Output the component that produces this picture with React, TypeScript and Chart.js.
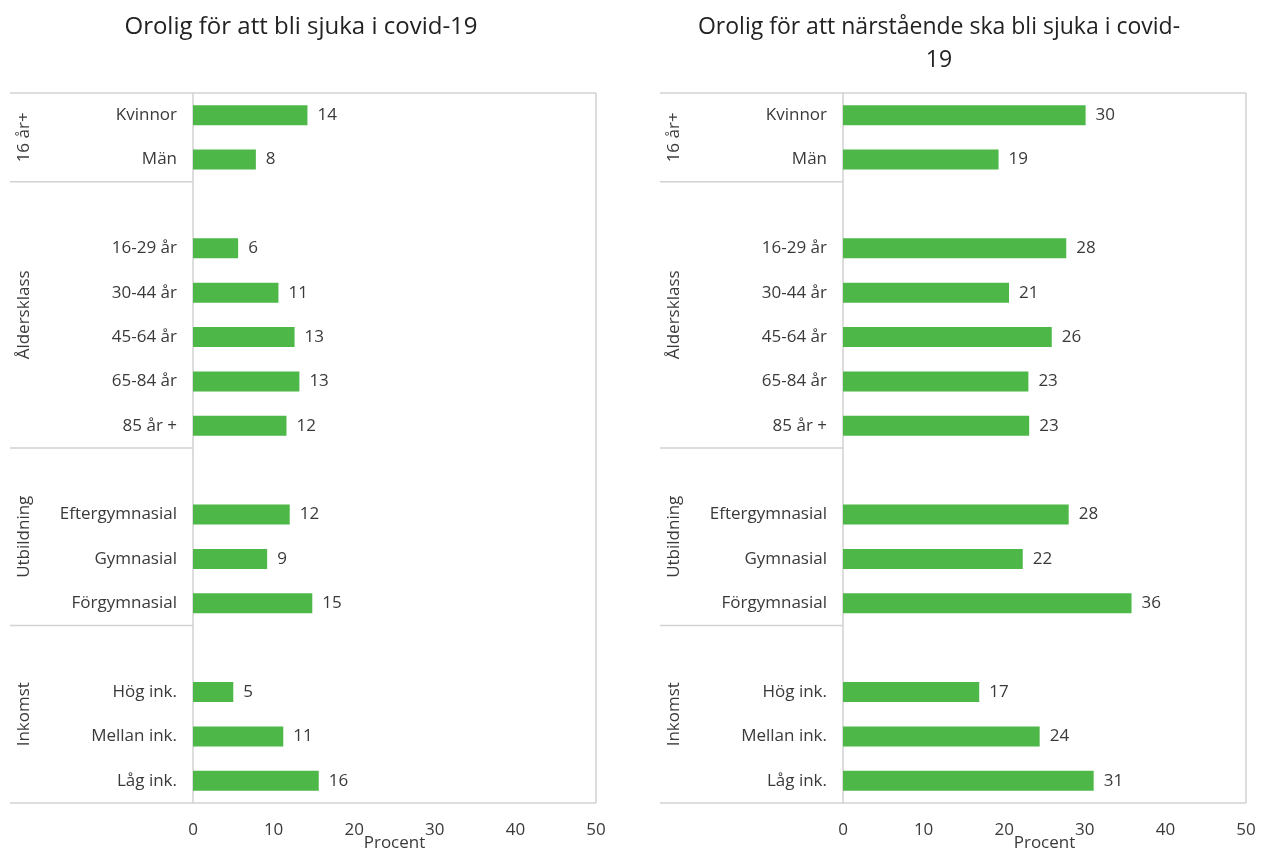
import React, { useEffect, useRef } from "react";
import { Chart, registerables } from "chart.js";

Chart.register(...registerables);

const categories = [
  "Kvinnor", "Män", "",
  "16-29 år", "30-44 år", "45-64 år", "65-84 år", "85 år +", "",
  "Eftergymnasial", "Gymnasial", "Förgymnasial", "",
  "Hög ink.", "Mellan ink.", "Låg ink.",
];

const groups = [
  { label: "16 år+", start: 0, end: 1 },
  { label: "Åldersklass", start: 2, end: 7 },
  { label: "Utbildning", start: 8, end: 11 },
  { label: "Inkomst", start: 12, end: 15 },
];

const leftValues = [14.2, 7.8, null, 5.6, 10.6, 12.6, 13.2, 11.6, null, 12.0, 9.2, 14.8, null, 5.0, 11.2, 15.6];
const rightValues = [30.1, 19.3, null, 27.7, 20.6, 25.9, 23.0, 23.1, null, 28.0, 22.3, 35.8, null, 16.9, 24.4, 31.1];

const leftTitle = ["Orolig för att bli sjuka i covid-19"];
const rightTitle = ["Orolig för att närstående ska bli sjuka i covid-", "19"];
const xTitle = "Procent";
const xTicks = [0, 10, 20, 30, 40, 50];

const FONT = "'Open Sans', 'Noto Sans', sans-serif";
const GREEN = "#4db848";
const TEXT = "#3a3a3a";
const LINE = "#d2d2d2";
const FS = 17;

const framePlugin = {
  id: "frame",
  beforeDatasetsDraw(chart: any, _args: any, opts: any) {
    const { ctx, chartArea } = chart;
    const { left, right, top, bottom } = chartArea;
    const fl = opts.frameLeft;
    const y = chart.scales.y;
    const line = (x1: number, y1: number, x2: number, y2: number) => {
      ctx.beginPath();
      ctx.moveTo(x1, y1);
      ctx.lineTo(x2, y2);
      ctx.stroke();
    };
    ctx.save();
    ctx.strokeStyle = LINE;
    ctx.lineWidth = 1.5;
    line(fl, top, right, top);
    line(right, top, right, bottom);
    line(fl, bottom, right, bottom);
    line(left, top, left, bottom);
    groups.forEach((g, i) => {
      if (i > 0) {
        const yy = (y.getPixelForValue(g.start - 1) + y.getPixelForValue(g.start)) / 2;
        line(fl, yy, left, yy);
      }
    });
    ctx.fillStyle = TEXT;
    ctx.font = `${FS}px ${FONT}`;
    ctx.textAlign = "center";
    ctx.textBaseline = "middle";
    groups.forEach((g) => {
      const y1 = y.getPixelForValue(g.start);
      const y2 = y.getPixelForValue(g.end);
      const cy = (y1 + y2) / 2;
      ctx.save();
      ctx.translate(fl + 14, cy);
      ctx.rotate(-Math.PI / 2);
      ctx.fillText(g.label, 0, 0);
      ctx.restore();
    });
    ctx.restore();
  },
  afterDatasetsDraw(chart: any) {
    const { ctx } = chart;
    const meta = chart.getDatasetMeta(0);
    const data = chart.data.datasets[0].data;
    ctx.save();
    ctx.fillStyle = TEXT;
    ctx.font = `${FS}px ${FONT}`;
    ctx.textAlign = "left";
    ctx.textBaseline = "middle";
    meta.data.forEach((el: any, i: number) => {
      const v = data[i];
      if (v === null || v === undefined) return;
      ctx.fillText(String(Math.round(v)), el.x + 10, el.y);
    });
    ctx.restore();
  },
  afterDraw(chart: any, _args: any, opts: any) {
    const { ctx, chartArea } = chart;
    ctx.save();
    ctx.fillStyle = "#222222";
    ctx.font = `${opts.titleSize}px ${FONT}`;
    ctx.textAlign = "center";
    ctx.textBaseline = "middle";
    opts.title.forEach((t: string, i: number) => {
      ctx.fillText(t, opts.titleX, 27 + i * 33);
    });
    ctx.fillStyle = TEXT;
    ctx.font = `${FS}px ${FONT}`;
    ctx.fillText(xTitle, (chartArea.left + chartArea.right) / 2, 843);
    ctx.restore();
  },
};

function Panel({ values, title, padLeft, padRight, titleX, titleSize }: any) {
  const ref = useRef<HTMLCanvasElement>(null);
  useEffect(() => {
    if (!ref.current) return;
    const chart = new Chart(ref.current, {
      type: "bar",
      data: {
        labels: categories,
        datasets: [
          {
            data: values,
            backgroundColor: GREEN,
            barPercentage: 0.45,
            categoryPercentage: 1,
          },
        ],
      },
      options: {
        indexAxis: "y",
        animation: false,
        responsive: false,
        devicePixelRatio: 1,
        layout: { padding: { left: padLeft, right: padRight, top: 93, bottom: 0 } },
        plugins: {
          legend: { display: false },
          tooltip: { enabled: false },
          frame: { frameLeft: padLeft, title, titleX, titleSize },
        } as any,
        scales: {
          x: {
            min: 0,
            max: 50,
            afterBuildTicks: (s: any) => {
              s.ticks = xTicks.map((v) => ({ value: v }));
            },
            grid: { display: false },
            border: { display: false },
            ticks: { font: { size: FS, family: FONT }, color: TEXT, padding: 9 },
            afterFit: (s: any) => {
              s.height = 46;
            },
          },
          y: {
            type: "category",
            grid: { display: false },
            border: { display: false },
            ticks: { font: { size: FS, family: FONT }, color: TEXT, padding: 8, autoSkip: false },
            afterFit: (s: any) => {
              s.width = 183;
            },
          },
        },
      },
      plugins: [framePlugin],
    } as any);
    return () => chart.destroy();
  }, []);
  return <canvas ref={ref} width={634} height={849} style={{ width: 634, height: 849, display: "block" }} />;
}

export default function App() {
  return (
    <div style={{ position: "absolute", left: 0, top: 0, width: 1268, height: 849, display: "flex", background: "#fff" }}>
      <Panel values={leftValues} title={leftTitle} padLeft={10} padRight={38} titleX={301} titleSize={24} />
      <Panel values={rightValues} title={rightTitle} padLeft={26} padRight={22} titleX={305} titleSize={23} />
    </div>
  );
}
